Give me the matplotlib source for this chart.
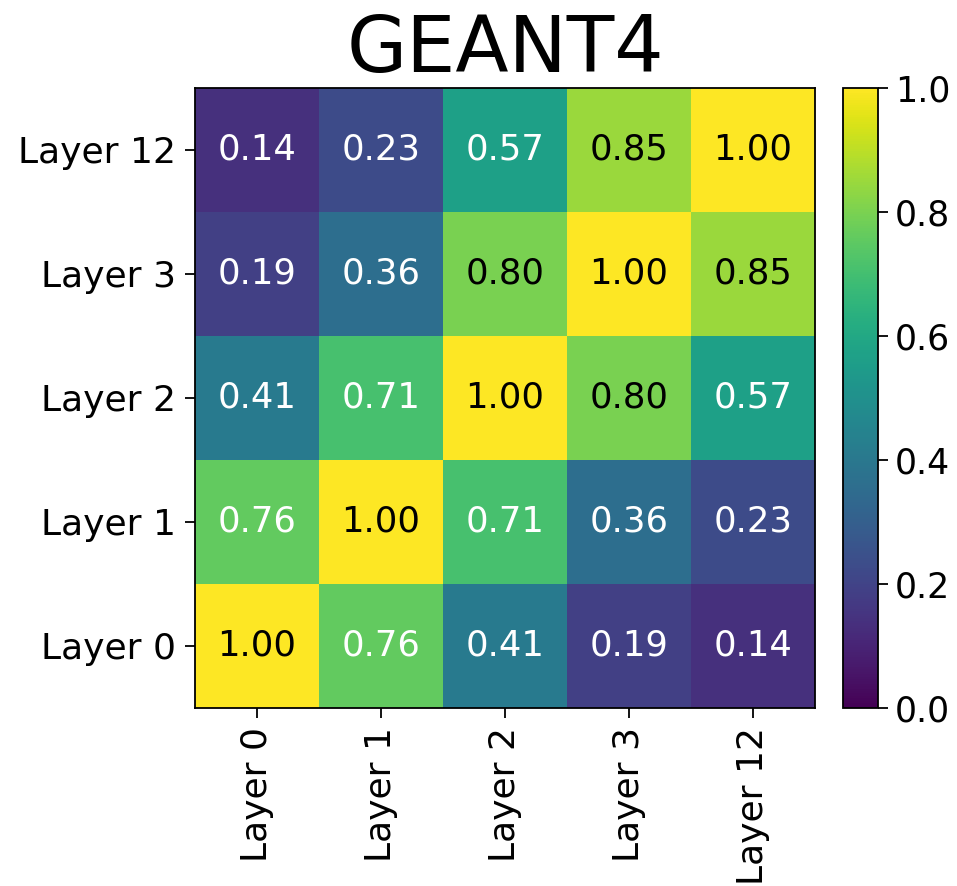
import numpy as np
import matplotlib
matplotlib.use("Agg")
import matplotlib.pyplot as plt

layers = ["Layer 0", "Layer 1", "Layer 2", "Layer 3", "Layer 12"]
corr = np.array([
    [1.00, 0.76, 0.41, 0.19, 0.14],
    [0.76, 1.00, 0.71, 0.36, 0.23],
    [0.41, 0.71, 1.00, 0.80, 0.57],
    [0.19, 0.36, 0.80, 1.00, 0.85],
    [0.14, 0.23, 0.57, 0.85, 1.00],
])
title = "GEANT4"
cbar_ticks = [0.0, 0.2, 0.4, 0.6, 0.8, 1.0]

fig = plt.figure(figsize=(9.57, 8.86), dpi=100)
ax = fig.add_axes([195 / 957, 1 - 708 / 886, 620 / 957, 620 / 886])
cax = fig.add_axes([843 / 957, 1 - 708 / 886, 35 / 957, 620 / 886])

im = ax.imshow(corr, cmap="viridis", vmin=0, vmax=1, origin="lower", aspect="auto")
n = len(layers)
for i in range(n):
    for j in range(n):
        v = corr[i, j]
        ax.text(j, i, f"{v:.2f}", ha="center", va="center", fontsize=25.5,
                color="black" if v > 0.78 else "white")

ax.set_xticks(range(n))
ax.set_yticks(range(n))
ax.set_xticklabels(layers, rotation=90, fontsize=26)
ax.set_yticklabels(layers, fontsize=26)
ax.tick_params(length=7, width=1.3, pad=7)
for s in ax.spines.values():
    s.set_linewidth(1.3)
ax.set_title(title, fontsize=56, pad=11)

cb = fig.colorbar(im, cax=cax, ticks=cbar_ticks)
cb.ax.tick_params(labelsize=25, length=7, width=1.3, pad=5)
cb.ax.set_yticklabels([f"{t:.1f}" for t in cbar_ticks])
cb.outline.set_linewidth(1.3)

fig.savefig("out.png", dpi=100)
